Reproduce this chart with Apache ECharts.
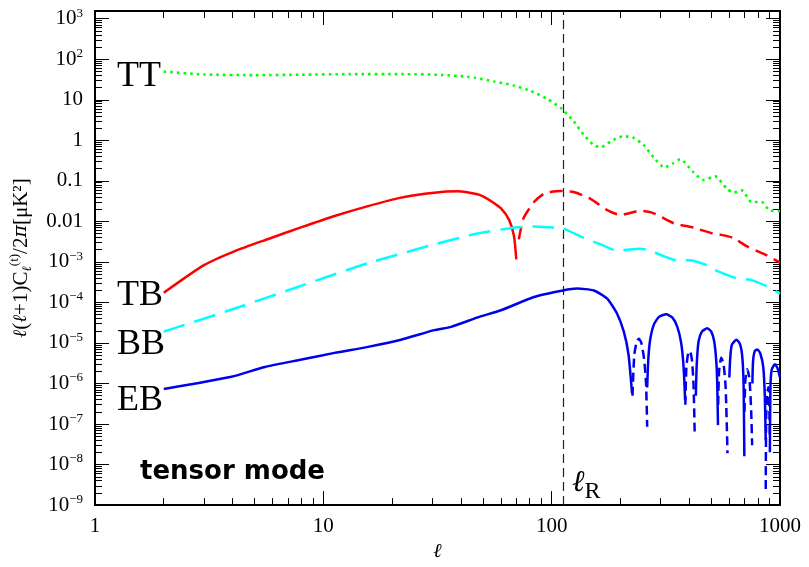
<!DOCTYPE html>
<html>
<head>
<meta charset="utf-8">
<script src="https://cdn.jsdelivr.net/npm/echarts@6/dist/echarts.min.js"></script>
<style>
html, body { margin: 0; padding: 0; background: #fff; }
#main { width: 809px; height: 567px; }
</style>
</head>
<body>
<div id="main"></div>
<script>
// multipole l and spectra l(l+1)C_l/2pi [muK^2]
var ttL = [2, 3, 5, 8, 13, 22, 33, 43, 46, 56, 68, 81, 96, 110, 125, 138, 153, 164, 187, 207, 229, 253, 280, 311, 340, 366, 418, 462, 520, 585, 625, 680, 751, 831, 904, 1000];
var ttV = [49.5, 42, 40.6, 41.5, 42.9, 42.9, 41, 37, 34.8, 28.3, 22.6, 16.5, 10.4, 6.15, 2.92, 1.38, 0.76, 0.68, 1.04, 1.26, 1.15, 0.76, 0.375, 0.214, 0.27, 0.34, 0.162, 0.105, 0.129, 0.064, 0.051, 0.058, 0.030, 0.030, 0.0183, 0.018];

// TB: positive part (solid) and negative part (dashed)
var tbPosL = [2, 3, 4.1, 5.74, 8.03, 11.2, 15.7, 21.9, 30.6, 38.8, 47.3, 50.5, 55, 60, 65.1, 68.4, 70];
var tbPosV = [1.73e-4, 8.3e-4, 1.85e-3, 3.68e-3, 7.2e-3, 1.36e-2, 2.38e-2, 3.85e-2, 5.1e-2, 5.5e-2, 4.66e-2, 4.0e-2, 3.0e-2, 2.08e-2, 1.09e-2, 4.3e-3, 1.16e-3];
var tbNegL = [71.8, 75.3, 83.7, 92.5, 100, 109.5, 125, 148, 175, 200, 220, 243, 280, 342, 418, 509, 547, 625, 714, 876, 1000];
var tbNegV = [3.6e-3, 1.2e-2, 3.0e-2, 4.8e-2, 5.4e-2, 5.6e-2, 5.3e-2, 3.6e-2, 1.9e-2, 1.44e-2, 1.6e-2, 1.83e-2, 1.58e-2, 9.0e-3, 7.0e-3, 5.0e-3, 4.7e-3, 3.9e-3, 2.44e-3, 1.45e-3, 9.6e-4];

// BB
var bbL = [2, 4.1, 8.03, 15.7, 30.6, 47.3, 66, 84, 99, 112, 138, 164, 192, 243, 261, 288, 352, 402, 478, 509, 625, 669, 738, 876, 1000];
var bbV = [1.9e-5, 7.1e-5, 2.6e-4, 9.3e-4, 2.7e-3, 5.0e-3, 6.8e-3, 7.5e-3, 7.1e-3, 6.7e-3, 3.9e-3, 2.7e-3, 1.92e-3, 2.1e-3, 2.0e-3, 1.63e-3, 1.10e-3, 1.10e-3, 8.3e-4, 6.6e-4, 4.15e-4, 3.8e-4, 3.65e-4, 2.5e-4, 1.65e-4];

// EB: positive arches (solid) and negative arches (dashed), null = break
var ebPosL = [2, 3.96, 5.54, 8.03, 11.2, 15.7, 21.9, 30.6, 36.3, 48.2, 60, 83.7, 112, 129, 153, 175, 193, 207, 217, 225, null,
  262, 265, 270, 280, 295, 317, 338, 355, 368, 376, 381, 384, null,
  428, 432, 440, 455, 480, 500, 515, 526, 531, 535, null,
  600, 605, 615, 645, 670, 685, 693, 698, null,
  757, 762, 775, 796, 820, 845, 858, 866, null,
  903, 908, 920, 950, 975, 1000];
var ebPosV = [7.3e-7, 1.46e-6, 2.56e-6, 3.9e-6, 5.7e-6, 8.0e-6, 1.2e-5, 2.07e-5, 2.5e-5, 4.4e-5, 6.4e-5, 1.36e-4, 1.97e-4, 2.2e-4, 1.97e-4, 1.24e-4, 5.4e-5, 1.9e-5, 5.2e-6, 5.6e-7, null,
  8e-7, 4e-6, 1.2e-5, 2.8e-5, 4.4e-5, 5.1e-5, 4.2e-5, 2.5e-5, 1.1e-5, 4e-6, 1.2e-6, 3.8e-7, null,
  5e-7, 3e-6, 1.1e-5, 1.9e-5, 2.3e-5, 1.9e-5, 1.1e-5, 3.5e-6, 1e-6, 9.4e-8, null,
  1.4e-6, 4e-6, 9e-6, 1.2e-5, 9e-6, 4e-6, 8e-7, 1.6e-8, null,
  1e-6, 3.5e-6, 6.3e-6, 6.9e-6, 5.5e-6, 2.5e-6, 5e-7, 4e-8, null,
  2e-8, 8e-7, 2.2e-6, 3e-6, 2.4e-6, 1.4e-6];
var ebNegL = [226, 230, 236, 241, 247, 254, 259, 262, null,
  385, 389, 396, 403, 411, 418, 423, null,
  536, 541, 553, 566, 578, 589, null,
  699, 705, 719, 735, 748, 755, null,
  866, 870, 880, 889, 896, 902];
var ebNegV = [5e-7, 5e-6, 1.1e-5, 1.27e-5, 1e-5, 4e-6, 1e-6, 8.6e-8, null,
  3e-7, 2.5e-6, 5.5e-6, 6.3e-6, 4e-6, 1e-6, 5.9e-8, null,
  3e-7, 2e-6, 4.3e-6, 3e-6, 8e-7, 1.9e-8, null,
  2e-7, 1.2e-6, 2.25e-6, 1.3e-6, 2e-7, 3e-8, null,
  2.5e-9, 1.5e-7, 6e-7, 8.1e-7, 5e-7, 5e-8];

var lR = 112; // l_R marker

var xMajor = [1, 10, 100, 1000];
var xMinor = [2, 3, 4, 5, 6, 7, 8, 9, 20, 30, 40, 50, 60, 70, 80, 90, 200, 300, 400, 500, 600, 700, 800, 900];
var yMajor = [1e-9, 1e-8, 1e-7, 1e-6, 1e-5, 1e-4, 1e-3, 0.01, 0.1, 1, 10, 100, 1000];
var yMinor = [];
for (var d = -9; d < 3; d++) {
    for (var m = 2; m <= 9; m++) yMinor.push(m * Math.pow(10, d));
}
var yMin = 1e-9, yMax = Math.pow(10, 3.19);

function pairs(ls, vs) {
    return ls.map(function (l, i) {
        return vs[i] == null ? ['-', '-'] : [l, vs[i]];
    });
}

var serif = '"Liberation Serif", "DejaVu Serif", serif';

function yLabel(v) {
    var k = Math.round(Math.log10(v));
    if (k >= -2 && k <= 1) return '{b|' + ['0.01', '0.1', '1', '10'][k + 2] + '}';
    return '{b|10}{s|' + (k < 0 ? '\u2212' + (-k) : k) + '}';
}

function xAx(pos, ticks, len, line, labels) {
    var a = {
        type: 'log', logBase: 10, min: 1, max: 1000, position: pos,
        axisLine: { show: line, onZero: false, lineStyle: { color: '#000', width: 2 } },
        axisTick: { show: true, inside: true, length: len, customValues: ticks, lineStyle: { color: '#000', width: 1 } },
        axisLabel: { show: false },
        splitLine: { show: false }, minorTick: { show: false }
    };
    if (labels) {
        a.axisLabel = {
            show: true, customValues: xMajor, margin: 11, color: '#000',
            fontFamily: serif, fontSize: 21,
            formatter: function (v) { return String(Math.round(v)); }
        };
        a.name = 'ℓ';
        a.nameLocation = 'middle';
        a.nameGap = 25;
        a.nameTextStyle = { fontFamily: '"DejaVu Serif", serif', fontStyle: 'italic', fontSize: 20, color: '#000' };
    }
    return a;
}

function yAx(pos, ticks, len, line, labels) {
    var a = {
        type: 'log', logBase: 10, min: yMin, max: yMax, position: pos,
        axisLine: { show: line, onZero: false, lineStyle: { color: '#000', width: 2 } },
        axisTick: { show: true, inside: true, length: len, customValues: ticks, lineStyle: { color: '#000', width: 1 } },
        axisLabel: { show: false },
        splitLine: { show: false }, minorTick: { show: false }
    };
    if (labels) {
        a.axisLabel = {
            show: true, customValues: yMajor, margin: 12, color: '#000',
            formatter: yLabel,
            rich: {
                b: { fontFamily: serif, fontSize: 21, lineHeight: 24, color: '#000' },
                s: { fontFamily: serif, fontSize: 13, lineHeight: 13, verticalAlign: 'top', color: '#000' }
            }
        };
        a.name = '{i|ℓ}{r|(}{i|ℓ}{r|+1)C}{sub|ℓ}{sup|(t)}{r|/2}{i|π}{r|[μK²]}';
        a.nameLocation = 'middle';
        a.nameGap = 61;
        a.nameTextStyle = {
            rich: {
                r: { fontFamily: serif, fontSize: 21, lineHeight: 26, color: '#000' },
                i: { fontFamily: '"DejaVu Serif", serif', fontStyle: 'italic', fontSize: 19, lineHeight: 26, color: '#000' },
                sub: { fontFamily: '"DejaVu Serif", serif', fontStyle: 'italic', fontSize: 13, lineHeight: 12, verticalAlign: 'bottom', color: '#000' },
                sup: { fontFamily: serif, fontSize: 13, lineHeight: 12, verticalAlign: 'top', color: '#000' }
            }
        };
    }
    return a;
}

var myChart = echarts.init(document.getElementById('main'));

var option = {
    animation: false,
    backgroundColor: '#fff',
    grid: { left: 93, right: 29, top: 11, bottom: 54, containLabel: false },
    xAxis: [
        xAx('bottom', xMajor, 14, true, true),
        xAx('bottom', xMinor, 7, false, false),
        xAx('top', xMajor, 14, true, false),
        xAx('top', xMinor, 7, false, false)
    ],
    yAxis: [
        yAx('left', yMajor, 14, true, true),
        yAx('left', yMinor, 7, false, false),
        yAx('right', yMajor, 14, true, false),
        yAx('right', yMinor, 7, false, false)
    ],
    series: [
        {
            name: 'TT', type: 'line', data: pairs(ttL, ttV), symbol: 'none', smooth: 0.2,
            lineStyle: { color: '#00ff00', width: 2.6, type: [2.6, 4], cap: 'butt' },
            markLine: {
                silent: true, symbol: ['none', 'none'], label: { show: false },
                lineStyle: { color: '#222', width: 1.2, type: [9, 5] },
                data: [{ xAxis: lR }]
            }
        },
        {
            name: 'TB+', type: 'line', data: pairs(tbPosL, tbPosV), symbol: 'none', smooth: 0.2,
            lineStyle: { color: '#ff0000', width: 2.5 }
        },
        {
            name: 'TB-', type: 'line', data: pairs(tbNegL, tbNegV), symbol: 'none', smooth: 0.2,
            lineStyle: { color: '#ff0000', width: 2.5, type: [13, 7] }
        },
        {
            name: 'BB', type: 'line', data: pairs(bbL, bbV), symbol: 'none', smooth: 0.2,
            lineStyle: { color: '#00ffff', width: 2.5, type: [22, 10] }
        },
        {
            name: 'EB+', type: 'line', data: pairs(ebPosL, ebPosV), symbol: 'none', smooth: 0.2, connectNulls: false,
            lineStyle: { color: '#0000ee', width: 2.5 }
        },
        {
            name: 'EB-', type: 'line', data: pairs(ebNegL, ebNegV), symbol: 'none', smooth: 0.2, connectNulls: false,
            lineStyle: { color: '#0000ee', width: 2.5, type: [9, 5] }
        }
    ],
    graphic: [
        { type: 'text', x: 117, y: 77, style: { text: 'TT', fontFamily: serif, fontSize: 36, fill: '#000', verticalAlign: 'middle' } },
        { type: 'text', x: 117, y: 296, style: { text: 'TB', fontFamily: serif, fontSize: 36, fill: '#000', verticalAlign: 'middle' } },
        { type: 'text', x: 117, y: 345, style: { text: 'BB', fontFamily: serif, fontSize: 36, fill: '#000', verticalAlign: 'middle' } },
        { type: 'text', x: 117, y: 401, style: { text: 'EB', fontFamily: serif, fontSize: 36, fill: '#000', verticalAlign: 'middle' } },
        { type: 'text', x: 140, y: 472, style: { text: 'tensor mode', fontFamily: '"DejaVu Sans", sans-serif', fontWeight: 'bold', fontSize: 26, fill: '#000', verticalAlign: 'middle' } },
        {
            type: 'text', x: 572, y: 486,
            style: {
                text: '{l|ℓ}{r|R}', verticalAlign: 'middle',
                rich: {
                    l: { fontFamily: '"DejaVu Serif", serif', fontStyle: 'italic', fontSize: 30, lineHeight: 36, fill: '#000', verticalAlign: 'top' },
                    r: { fontFamily: serif, fontSize: 24, lineHeight: 24, fill: '#000', verticalAlign: 'bottom' }
                }
            }
        }
    ]
};
myChart.setOption(option);
</script>
</body>
</html>
